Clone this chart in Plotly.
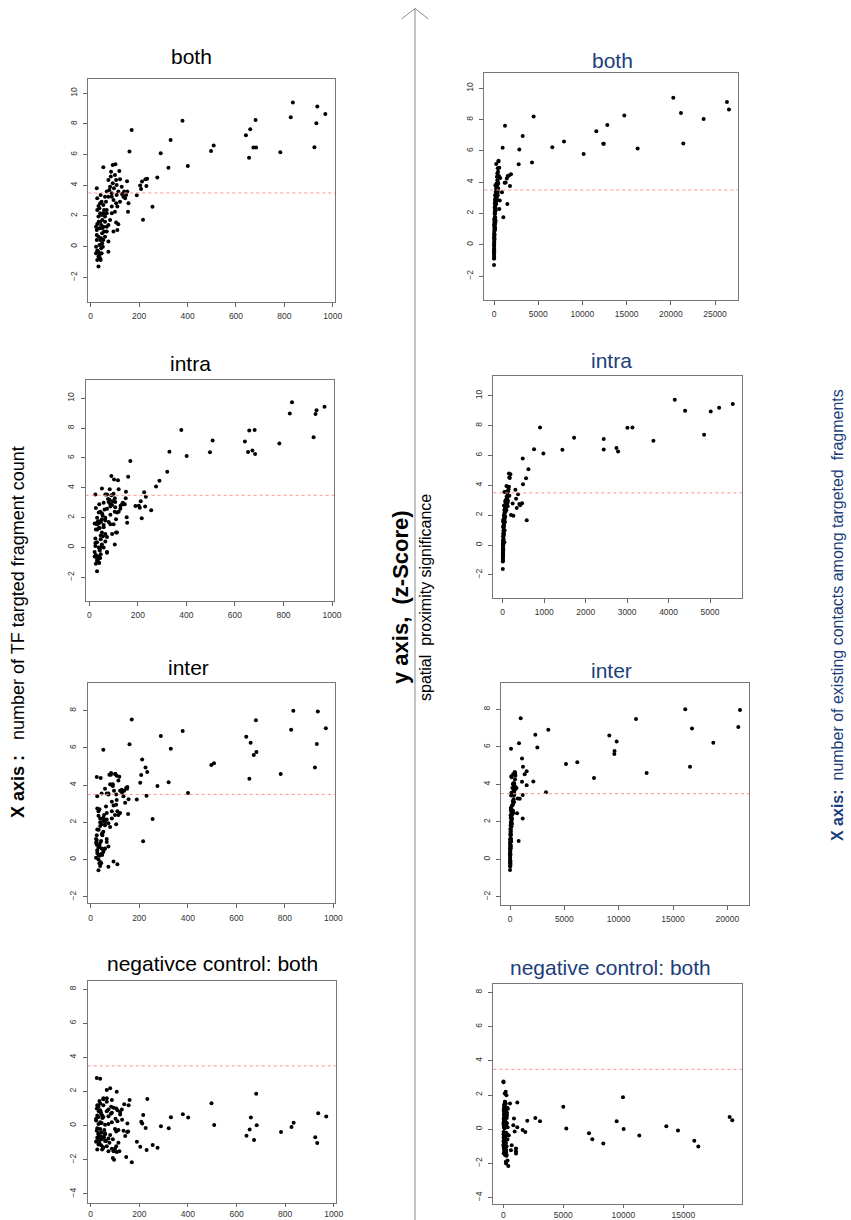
import plotly.graph_objects as go

# ---------------- data ----------------
# One entry per transcription factor; left panels share tf_count,
# right panels use the contact counts; z-scores are shared left/right.
tf_count = [
    32, 25, 41, 27, 52, 45, 52, 36, 39, 32,
    27, 25, 25, 22, 27, 32, 39, 45, 39, 47,
    52, 59, 66, 63, 73, 80, 73, 83, 84, 91,
    102, 118, 121, 91, 96, 87, 94, 105, 110, 100,
    87, 80, 73, 66, 59, 73, 73, 105, 114, 110,
    94, 129, 135, 146, 121, 114, 107, 128, 142, 138,
    151, 107, 105, 100, 87, 66, 59, 48, 43, 36,
    47, 32, 43, 52, 36, 43, 32, 50, 33, 27,
    39, 59, 66, 77, 87, 52, 66, 56, 47, 36,
    41, 27, 22, 25, 39, 55, 32, 22, 45,
    150, 156, 154,
    160, 169, 190, 204, 208, 212, 216, 226, 230, 233, 255, 275, 289, 321, 330, 379,
    401, 497, 508, 641, 654, 659, 672, 681, 683, 783, 826, 835, 924, 932, 936, 969,
]
z_both = [
    -1.3, 3.8, 3.37, 3.15, 5.17, 2.93, 2.72, 2.5, 2.17, 1.96,
    1.48, 1.09, 0.43, 0.0, -0.26, -0.65, -0.76, -0.43, 0.43, 0.87,
    1.3, 1.63, 2.39, 2.93, 3.26, 3.91, 4.35, 4.57, 4.89, 5.33,
    5.37, 4.93, 4.39, 4.13, 3.8, 3.48, 3.04, 2.83, 2.61, 2.28,
    2.17, 1.74, 1.41, 0.98, 0.65, 0.33, -0.33, 1.57, 1.46, 1.09,
    0.98, 3.43, 3.26, 3.37, 2.93, 3.59, 4.02, 3.91, 3.15, 3.59,
    3.59, 3.37, 4.35, 4.67, 2.61, 2.17, 1.96, 1.74, 1.41, 1.2,
    1.2, 0.65, 0.54, 0.43, 0.11, -0.11, -0.33, 0.0, 1.63, 2.39,
    2.83, 3.26, 3.59, 3.7, 3.26, 2.17, 1.3, 0.98, 0.22, -0.54,
    -0.87, -0.87, -0.43, 0.76, 1.63, 2.39, 2.65, 1.3, 2.07,
    4.26, 2.83, 2.28,
    6.2, 7.61, 3.35, 3.98, 3.76, 4.24, 1.76, 4.39, 3.96, 4.43, 2.6, 4.5, 6.09, 5.15, 6.96, 8.2,
    5.26, 6.24, 6.6, 7.26, 5.8, 7.65, 6.46, 8.26, 6.46, 6.15, 8.43, 9.39, 6.48, 8.04, 9.13, 8.65,
]
z_intra = [
    -1.6, 3.55, 2.9, 2.65, 3.95, 2.4, 2.3, 1.75, 1.6, 1.55,
    1.2, 0.3, 0.1, -0.3, -0.5, -0.9, -1.0, -0.7, 0.0, 0.8,
    1.0, 1.5, 1.8, 2.55, 2.6, 3.05, 3.55, 3.2, 3.9, 4.8,
    4.55, 4.5, 3.9, 3.5, 3.1, 2.9, 2.85, 2.4, 1.9, 1.55,
    1.55, 1.7, 0.7, 0.4, 0.0, -0.3, -0.35, 0.2, 1.0, 1.0,
    0.9, 2.8, 2.9, 2.9, 2.4, 2.35, 3.05, 2.6, 2.9, 3.0,
    3.74, 2.7, 3.3, 3.6, 2.2, 2.0, 1.35, 1.7, 1.3, 1.7,
    0.55, 0.35, -0.2, 0.2, -0.6, -0.15, -0.75, 0.05, 1.2, 1.6,
    2.35, 3.0, 3.55, 3.25, 2.75, 1.9, 0.9, 0.75, -0.45, -0.8,
    -1.05, -1.1, -0.6, 0.6, 1.3, 2.15, 2.0, 1.6, 1.75,
    3.3, 1.66, 2.02,
    4.75, 5.8, 2.78, 2.8, 2.67, 3.1, 1.96, 3.7, 2.75, 3.4, 2.49, 4.08, 4.48, 5.08, 6.42, 7.88,
    6.13, 6.38, 7.18, 7.1, 6.4, 7.85, 6.5, 7.88, 6.27, 6.98, 8.99, 9.73, 7.39, 8.95, 9.2, 9.44,
]
z_inter = [
    -0.57, 4.43, 4.38, 3.4, 5.9, 3.55, 2.1, 2.7, 2.2, 2.35,
    1.62, 1.3, 0.8, 0.1, 0.5, 0.0, -0.35, 0.6, 0.9, 1.4,
    1.5, 2.0, 2.5, 2.85, 3.5, 4.05, 3.55, 4.55, 4.65, 4.05,
    4.6, 4.45, 3.7, 3.95, 3.7, 3.1, 2.9, 2.95, 2.6, 2.4,
    2.2, 1.75, 1.95, 1.1, 0.6, 0.7, -0.38, 1.9, 2.4, -0.25,
    -0.1, 3.6, 3.4, 3.85, 2.5, 4.25, 4.5, 3.75, 3.05, 3.7,
    3.9, 3.2, 3.5, 4.6, 2.6, 2.15, 1.85, 1.3, 1.0, 0.75,
    1.35, 0.65, 0.3, 0.4, 0.2, -0.2, 0.25, 0.55, 1.6, 2.75,
    2.0, 3.8, 3.55, 4.55, 4.0, 2.25, 0.95, 0.55, 0.25, -0.2,
    -0.15, 0.35, 0.9, 1.05, 1.8, 2.4, 2.6, 1.1, 1.9,
    3.8, 3.24, 2.45,
    6.19, 7.53, 3.23, 4.13, 4.54, 5.38, 0.98, 4.94, 3.43, 4.7, 2.18, 3.95, 6.64, 4.15, 5.96, 6.91,
    3.57, 5.08, 5.17, 6.6, 4.34, 6.28, 5.62, 7.48, 5.78, 4.6, 6.98, 8.0, 4.94, 6.21, 7.96, 7.05,
]
z_neg = [
    -0.5, 1.0, 0.8, 1.2, 1.55, -0.4, 1.6, -0.6, 0.9, -1.1,
    0.6, -0.3, -0.9, 0.3, -0.7, 1.1, -0.2, -0.8, 0.2, -1.4,
    0.5, -0.5, 1.4, -0.9, 0.1, 2.19, -1.5, 0.7, 1.1, -0.8,
    0.4, -1.5, 0.8, -1.9, -2.0, 0.2, 1.05, -0.35, 0.25, -1.35,
    1.5, -0.55, 0.95, -1.2, 0.05, -0.75, 0.55, -1.2, -0.25, 0.9,
    -1.5, 0.35, -0.3, -1.83, 0.65, -1.0, 1.98, 0.95, -0.6, 1.25,
    0.12, -1.55, 1.0, -0.2, -1.35, 0.85, -0.45, 0.45, -1.15, 1.45,
    -0.65, 0.1, -0.4, 1.2, -1.0, 0.7, -0.45, -1.25, 0.85, -0.15,
    1.3, -0.9, 2.09, -1.0, 0.75, -1.3, 1.6, -0.25, 0.6, -0.8,
    0.15, -1.4, 0.4, 2.79, 2.75, -0.7, 0.5, -0.95, 0.15,
    -0.37, 1.2, -0.35,
    1.5, -2.15, -0.94, -1.23, 0.23, 0.12, 0.62, -0.14, -1.42, 1.56, -1.13, -1.29, -0.04, -0.16, 0.49, 0.66,
    0.47, 1.31, 0.04, -0.59, -0.23, 0.47, -0.84, 1.87, 0.02, -0.37, -0.08, 0.17, -0.68, -1.01, 0.72, 0.53,
]
contacts_both = [
    5, 160, 200, 120, 250, 140, 180, 110, 90, 70,
    50, 40, 25, 12, 10, 8, 10, 15, 30, 45,
    60, 80, 130, 160, 220, 300, 330, 380, 420, 500,
    520, 600, 560, 380, 350, 300, 260, 260, 240, 200,
    180, 140, 110, 80, 60, 50, 30, 160, 170, 130,
    100, 400, 380, 420, 330, 400, 430, 480, 420, 450,
    480, 350, 440, 460, 220, 140, 110, 80, 60, 45,
    55, 30, 30, 35, 20, 15, 10, 20, 60, 80,
    120, 200, 240, 290, 270, 120, 90, 60, 25, 8,
    8, 5, 6, 25, 55, 120, 100, 35, 90,
    700, 650, 600,
    980, 1244, 900, 1320, 1810, 1450, 1056, 1546, 1200, 1700, 1508, 1923, 2865, 2790, 3242, 4486,
    4298, 6598, 7917, 11574, 10141, 12818, 12366, 14741, 12420, 16249, 21150, 20283, 21414, 23713, 26352, 26578,
]
contacts_intra = [
    3, 40, 60, 30, 90, 50, 70, 35, 40, 20,
    15, 10, 8, 5, 6, 5, 6, 8, 10, 15,
    20, 25, 45, 55, 70, 90, 100, 110, 120, 150,
    160, 170, 150, 110, 100, 85, 80, 75, 60, 50,
    45, 40, 30, 20, 15, 12, 8, 40, 45, 35,
    30, 110, 100, 120, 80, 90, 110, 120, 110, 120,
    140, 90, 120, 130, 60, 45, 35, 25, 20, 15,
    18, 10, 10, 12, 7, 6, 5, 8, 20, 25,
    40, 70, 80, 95, 85, 40, 25, 20, 9, 4,
    4, 3, 3, 8, 18, 40, 30, 10, 30,
    160, 579, 200,
    185, 482, 240, 466, 420, 322, 257, 306, 400, 370, 338, 490, 563, 619, 756, 900,
    981, 1439, 1721, 2436, 2436, 3007, 2742, 3128, 2782, 3634, 4398, 4149, 4856, 5017, 5218, 5548,
]
contacts_inter = [
    4, 120, 150, 100, 92, 130, 160, 80, 70, 60,
    40, 30, 20, 10, 12, 10, 15, 25, 35, 55,
    70, 100, 150, 180, 240, 300, 260, 420, 440, 380,
    460, 500, 420, 350, 330, 260, 240, 280, 250, 210,
    170, 140, 120, 90, 60, 55, 25, 180, 200, 50,
    40, 380, 360, 430, 300, 460, 480, 440, 380, 420,
    450, 330, 400, 480, 230, 150, 120, 90, 70, 55,
    60, 35, 30, 35, 20, 15, 15, 30, 65, 85,
    110, 220, 260, 300, 290, 110, 100, 50, 25, 10,
    8, 6, 8, 30, 60, 130, 90, 30, 85,
    600, 700, 650,
    828, 981, 900, 1104, 1349, 1104, 797, 1196, 1165, 1534, 1165, 1534, 2331, 2147, 2515, 3527,
    3312, 5152, 6195, 9140, 7729, 9814, 9600, 11593, 9620, 12575, 16746, 16132, 16562, 18709, 21162, 21009,
]
contacts_neg = [
    30, 60, 90, 50, 150, 120, 140, 70, 80, 40,
    30, 25, 20, 15, 20, 35, 40, 50, 45, 60,
    80, 90, 110, 100, 130, 200, 140, 180, 200, 220,
    250, 280, 300, 210, 230, 190, 210, 240, 250, 220,
    200, 180, 150, 130, 110, 140, 150, 240, 260, 250,
    220, 300, 320, 350, 290, 270, 260, 310, 340, 330,
    360, 260, 250, 240, 210, 160, 130, 100, 80, 70,
    90, 55, 75, 95, 60, 70, 45, 85, 50, 35,
    65, 110, 120, 150, 180, 100, 130, 110, 90, 60,
    75, 40, 25, 10, 20, 110, 50, 20, 90,
    450, 380, 420,
    560, 417, 700, 639, 833, 1167, 889, 945, 1056, 1167, 1056, 1056, 1611, 1834, 2000, 2667,
    3056, 5000, 5250, 7417, 7139, 9445, 8334, 9973, 10029, 11334, 14556, 13584, 15917, 16251, 18862, 19084,
]

threshold = 3.5

titles_left = ["both", "intra", "inter", "negativce control: both"]
titles_right = ["both", "intra", "inter", "negative control: both"]

xt_left = [0, 200, 400, 600, 800, 1000]
xt_rb = [0, 5000, 10000, 15000, 20000, 25000]
xt_ri = [0, 1000, 2000, 3000, 4000, 5000]
xt_rx = [0, 5000, 10000, 15000, 20000]
xt_rn = [0, 5000, 10000, 15000]
yt_a = [-2, 0, 2, 4, 6, 8, 10]
yt_x = [-2, 0, 2, 4, 6, 8]
yt_n = [-4, -2, 0, 2, 4, 6, 8]

# ---------------- layout ----------------
W, H = 851, 1220
NAVY = "#1b3e7b"
SANS = "Liberation Sans, Arial, sans-serif"

panels = [
    # x data, y data, box (left, top, right, bottom) px, x range, y range, x ticks, y ticks, title, title centre, colour, x-label standoff
    (tf_count, z_both, (88.3, 79.3, 335.0, 301.7), (-10, 1009), (-3.59, 10.91), xt_left, yt_a, titles_left[0], (191.7, 57), "black", 2),
    (contacts_both, z_both, (484.3, 73.3, 737.7, 300.0), (-1097, 27568), (-3.53, 10.96), xt_rb, yt_a, titles_right[0], (612, 60), NAVY, 2),
    (tf_count, z_intra, (85.7, 380.0, 334.0, 601.0), (-14.8, 1008), (-3.59, 11.23), xt_left, yt_a, titles_left[1], (190.7, 363), "black", 2),
    (contacts_intra, z_intra, (493.3, 375.7, 741.7, 597.7), (-227, 5763), (-3.52, 11.34), xt_ri, yt_a, titles_right[1], (611.7, 360), NAVY, 2),
    (tf_count, z_inter, (87.7, 683.3, 335.3, 903.3), (-12.4, 1008), (-2.35, 9.47), xt_left, yt_x, titles_left[2], (188.8, 667), "black", 2),
    (contacts_inter, z_inter, (501.0, 682.7, 749.3, 905.0), (-828, 22021), (-2.44, 9.42), xt_rx, yt_x, titles_right[2], (611.7, 670), NAVY, 2),
    (tf_count, z_neg, (87.7, 981.0, 335.7, 1203.0), (-12.4, 1008), (-4.53, 8.47), xt_left, yt_n, titles_left[3], (212.5, 963), "black", 0),
    (contacts_neg, z_neg, (493.3, 984.3, 741.7, 1204.0), (-833, 19867), (-4.37, 8.47), xt_rn, yt_n, titles_right[3], (610.7, 967), NAVY, 0),
]

fig = go.Figure()
layout = dict(
    width=W, height=H, margin=dict(l=0, r=0, t=0, b=0, autoexpand=False),
    paper_bgcolor="white", plot_bgcolor="white", showlegend=False,
    shapes=[], annotations=[],
)

for i, (xs, ys, box, xr, yr, xt, yt, title, tpos, tcol, xso) in enumerate(panels, start=1):
    sfx = "" if i == 1 else str(i)
    left, top, right, bottom = box
    fig.add_trace(go.Scatter(
        x=xs, y=ys, mode="markers", xaxis="x" + sfx, yaxis="y" + sfx,
        marker=dict(size=4, color="black", line=dict(width=0)),
        hoverinfo="x+y",
    ))
    layout["xaxis" + sfx] = dict(
        domain=[left / W, right / W], range=list(xr), anchor="y" + sfx,
        tickvals=xt, ticktext=[str(v) for v in xt],
        ticks="outside", ticklen=4 if xso else 3, tickcolor="#666", tickwidth=1,
        showline=True, linecolor="#777", linewidth=1, mirror=True,
        showgrid=False, zeroline=False,
        tickfont=dict(family=SANS, size=8.5, color="#333"),
        ticklabelstandoff=xso,
    )
    layout["yaxis" + sfx] = dict(
        domain=[1 - bottom / H, 1 - top / H], range=list(yr), anchor="x" + sfx,
        tickvals=yt, ticktext=[str(v).replace("-", "\u2212") for v in yt],
        ticks="outside", ticklen=4, tickcolor="#666", tickwidth=1,
        showline=True, linecolor="#777", linewidth=1, mirror=True,
        showgrid=False, zeroline=False, tickangle=-90,
        tickfont=dict(family=SANS, size=8.5, color="#333"),
        ticklabelstandoff=3,
    )
    layout["shapes"].append(dict(
        type="line", xref="x" + sfx + " domain", yref="y" + sfx,
        x0=0, x1=1, y0=threshold, y1=threshold,
        line=dict(color="#ff9090", width=1, dash="dot"),
    ))
    layout["annotations"].append(dict(
        text=title, x=tpos[0] / W, y=1 - tpos[1] / H, xref="paper", yref="paper",
        xanchor="center", yanchor="middle", showarrow=False,
        font=dict(family=SANS, size=21, color=tcol),
    ))

# central axis with arrow head
def px(xp, yp):
    return xp / W, 1 - yp / H

cx = 415
x0, y0 = px(cx, 8.5)
x1, y1 = px(cx, H)
layout["shapes"].append(dict(type="line", xref="paper", yref="paper", x0=x0, y0=y0, x1=x1, y1=y1,
                             line=dict(color="#8a8a8a", width=1)))
for dx in (-13.5, 13.5):
    ax, ay = px(cx + dx, 19)
    layout["shapes"].append(dict(type="line", xref="paper", yref="paper", x0=x0, y0=y0, x1=ax, y1=ay,
                                 line=dict(color="#8a8a8a", width=1)))

NB = "\u00a0"
side_labels = [
    ("<b>X axis :</b>" + NB * 3 + "number of TF targted fragment count", 18, 632, 18, "black"),
    ("<b>y axis," + NB * 2 + "(z-Score)</b>", 400, 597, 22, "black"),
    ("spatial" + NB * 2 + "proximity significance", 425, 598, 16, "black"),
    ("<b>X axis:</b>" + NB * 2 + "number of existing contacts among targeted" + NB * 2 + "fragments", 838, 615, 16, NAVY),
]
for text, xp, yp, size, col in side_labels:
    ax, ay = px(xp, yp)
    layout["annotations"].append(dict(
        text=text, x=ax, y=ay, xref="paper", yref="paper", xanchor="center", yanchor="middle",
        textangle=-90, showarrow=False, font=dict(family=SANS, size=size, color=col),
    ))

fig.update_layout(**layout)
fig.write_html("out.html")
